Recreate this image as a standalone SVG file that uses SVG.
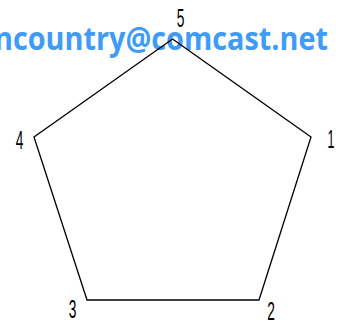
<svg xmlns="http://www.w3.org/2000/svg" width="338" height="324" viewBox="0 0 338 324">
<style>
.wm{font-family:"Open Sans","Liberation Sans",sans-serif;font-weight:bold;font-size:32px;fill:#3f9cf5}
.lbl{font-family:"Liberation Sans",Arial,sans-serif;font-size:25px;fill:#000;text-anchor:middle}
.edge{fill:none;stroke:#000;stroke-width:1.3;stroke-linejoin:miter}
</style>
<rect width="338" height="324" fill="#fff"/>
<text class="wm" x="-6" y="50" textLength="334" lengthAdjust="spacingAndGlyphs">ncountry@comcast.net</text>
<g id="connectors">
<polygon class="edge" points="172.5,39 311,137 259,300 87,300 34,137"/>
</g>
<g id="node1"><text class="lbl" transform="translate(331,148) scale(0.5,1)">1</text></g>
<g id="node2"><text class="lbl" transform="translate(271,320) scale(0.55,1)">2</text></g>
<g id="node3"><text class="lbl" transform="translate(72.5,318) scale(0.55,1)">3</text></g>
<g id="node4"><text class="lbl" transform="translate(19.5,149) scale(0.55,1)">4</text></g>
<g id="node5"><text class="lbl" transform="translate(180.5,27) scale(0.55,1)">5</text></g>
</svg>
